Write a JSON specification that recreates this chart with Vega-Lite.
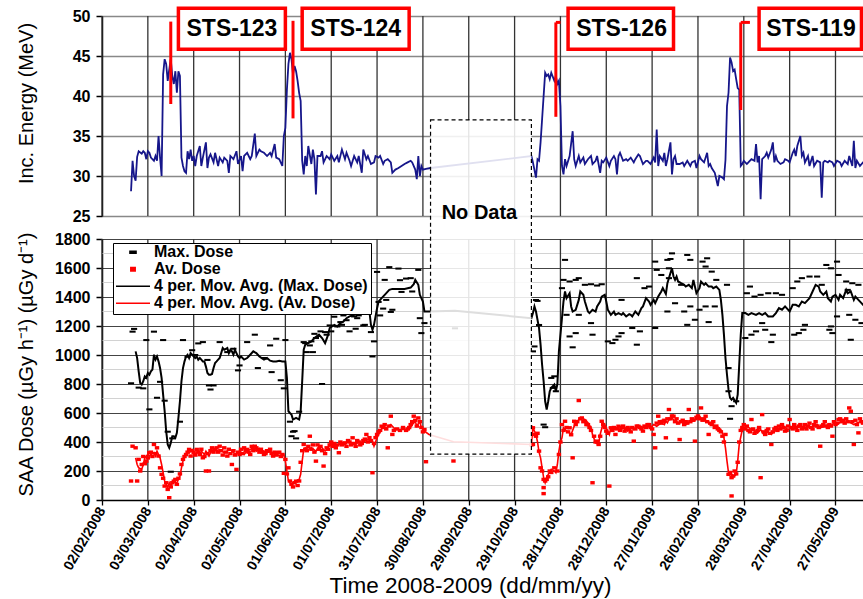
{
"$schema":"https://vega.github.io/schema/vega-lite/v6.json",
"width":761,"height":484,
"autosize":{"type":"none"},
"padding":{"left":102,"top":16,"right":0,"bottom":99},
"background":"white",
"config":{"view":{"stroke":null},"font":"Liberation Sans",
"axis":{"labelFont":"Liberation Sans","titleFont":"Liberation Sans","labelColor":"#000","titleColor":"#000","domainColor":"#000","tickColor":"#000","labelFontWeight":"bold","titleFontWeight":"normal"}},
"datasets":{
"vgrid":[{"d":"2008-02-02"},{"d":"2008-03-03"},{"d":"2008-04-02"},{"d":"2008-05-02"},{"d":"2008-06-01"},{"d":"2008-07-01"},{"d":"2008-07-31"},{"d":"2008-08-30"},{"d":"2008-09-29"},{"d":"2008-10-29"},{"d":"2008-11-28"},{"d":"2008-12-28"},{"d":"2009-01-27"},{"d":"2009-02-26"},{"d":"2009-03-28"},{"d":"2009-04-27"},{"d":"2009-05-27"}],
"minor":[{"v":100},{"v":300},{"v":500},{"v":700},{"v":900},{"v":1100},{"v":1300},{"v":1500},{"v":1700}],
"energy":[{"d":"2008-02-21","e":28.1},{"d":"2008-02-22","e":31.9},{"d":"2008-02-23","e":30.0},{"d":"2008-02-24","e":29.4},{"d":"2008-02-25","e":32.4},{"d":"2008-02-26","e":33.1},{"d":"2008-02-28","e":32.8},{"d":"2008-02-29","e":33.1},{"d":"2008-03-01","e":32.9},{"d":"2008-03-02","e":32.1},{"d":"2008-03-03","e":33.1},{"d":"2008-03-04","e":32.9},{"d":"2008-03-05","e":32.3},{"d":"2008-03-07","e":31.9},{"d":"2008-03-08","e":32.5},{"d":"2008-03-09","e":31.9},{"d":"2008-03-10","e":35.0},{"d":"2008-03-11","e":32.3},{"d":"2008-03-12","e":30.0},{"d":"2008-03-13","e":42.7},{"d":"2008-03-14","e":44.6},{"d":"2008-03-15","e":44.0},{"d":"2008-03-16","e":41.9},{"d":"2008-03-17","e":43.3},{"d":"2008-03-18","e":44.6},{"d":"2008-03-19","e":42.5},{"d":"2008-03-20","e":41.5},{"d":"2008-03-21","e":43.1},{"d":"2008-03-22","e":40.4},{"d":"2008-03-23","e":43.1},{"d":"2008-03-24","e":42.5},{"d":"2008-03-25","e":32.3},{"d":"2008-03-26","e":31.25},{"d":"2008-03-27","e":30.6},{"d":"2008-03-28","e":30.4},{"d":"2008-03-29","e":33.1},{"d":"2008-03-30","e":32.1},{"d":"2008-03-31","e":33.3},{"d":"2008-04-01","e":31.9},{"d":"2008-04-02","e":32.5},{"d":"2008-04-03","e":31.25},{"d":"2008-04-04","e":32.5},{"d":"2008-04-06","e":33.75},{"d":"2008-04-07","e":31.25},{"d":"2008-04-08","e":32.3},{"d":"2008-04-10","e":34.2},{"d":"2008-04-11","e":31.0},{"d":"2008-04-12","e":32.3},{"d":"2008-04-13","e":32.7},{"d":"2008-04-15","e":31.7},{"d":"2008-04-16","e":32.9},{"d":"2008-04-18","e":31.25},{"d":"2008-04-19","e":32.3},{"d":"2008-04-21","e":31.7},{"d":"2008-04-22","e":32.3},{"d":"2008-04-24","e":31.9},{"d":"2008-04-25","e":30.4},{"d":"2008-04-26","e":32.5},{"d":"2008-04-28","e":32.1},{"d":"2008-04-30","e":33.1},{"d":"2008-05-01","e":31.5},{"d":"2008-05-03","e":32.5},{"d":"2008-05-04","e":30.6},{"d":"2008-05-05","e":32.5},{"d":"2008-05-07","e":32.9},{"d":"2008-05-09","e":32.1},{"d":"2008-05-10","e":32.5},{"d":"2008-05-12","e":35.3},{"d":"2008-05-13","e":32.5},{"d":"2008-05-15","e":33.3},{"d":"2008-05-16","e":33.1},{"d":"2008-05-18","e":32.9},{"d":"2008-05-20","e":32.5},{"d":"2008-05-22","e":32.9},{"d":"2008-05-23","e":32.5},{"d":"2008-05-25","e":34.0},{"d":"2008-05-26","e":32.3},{"d":"2008-05-28","e":32.1},{"d":"2008-05-30","e":31.25},{"d":"2008-05-31","e":35.0},{"d":"2008-06-01","e":36.0},{"d":"2008-06-02","e":40.8},{"d":"2008-06-03","e":44.0},{"d":"2008-06-04","e":45.4},{"d":"2008-06-05","e":44.6},{"d":"2008-06-06","e":42.7},{"d":"2008-06-07","e":43.75},{"d":"2008-06-08","e":43.1},{"d":"2008-06-09","e":41.9},{"d":"2008-06-10","e":40.4},{"d":"2008-06-11","e":39.4},{"d":"2008-06-12","e":31.9},{"d":"2008-06-13","e":30.2},{"d":"2008-06-14","e":32.5},{"d":"2008-06-15","e":31.25},{"d":"2008-06-16","e":33.75},{"d":"2008-06-18","e":31.5},{"d":"2008-06-19","e":33.3},{"d":"2008-06-20","e":32.1},{"d":"2008-06-21","e":27.7},{"d":"2008-06-22","e":32.5},{"d":"2008-06-24","e":32.5},{"d":"2008-06-25","e":33.1},{"d":"2008-06-26","e":31.7},{"d":"2008-06-28","e":32.5},{"d":"2008-06-30","e":32.1},{"d":"2008-07-01","e":32.7},{"d":"2008-07-03","e":31.9},{"d":"2008-07-05","e":32.5},{"d":"2008-07-06","e":31.7},{"d":"2008-07-08","e":33.3},{"d":"2008-07-10","e":32.1},{"d":"2008-07-11","e":32.9},{"d":"2008-07-13","e":31.9},{"d":"2008-07-14","e":31.25},{"d":"2008-07-16","e":32.5},{"d":"2008-07-18","e":31.7},{"d":"2008-07-19","e":32.5},{"d":"2008-07-21","e":30.4},{"d":"2008-07-22","e":33.3},{"d":"2008-07-24","e":32.1},{"d":"2008-07-25","e":32.5},{"d":"2008-07-27","e":31.5},{"d":"2008-07-29","e":31.7},{"d":"2008-07-30","e":32.5},{"d":"2008-08-01","e":32.3},{"d":"2008-08-02","e":32.5},{"d":"2008-08-04","e":31.5},{"d":"2008-08-05","e":31.9},{"d":"2008-08-07","e":32.1},{"d":"2008-08-09","e":31.7},{"d":"2008-08-10","e":30.4},{"d":"2008-08-12","e":30.8},{"d":"2008-08-14","e":31.0},{"d":"2008-08-16","e":31.25},{"d":"2008-08-18","e":31.5},{"d":"2008-08-20","e":31.7},{"d":"2008-08-22","e":31.9},{"d":"2008-08-23","e":31.7},{"d":"2008-08-25","e":30.8},{"d":"2008-08-26","e":29.6},{"d":"2008-08-27","e":32.5},{"d":"2008-08-28","e":30.0},{"d":"2008-08-29","e":31.25},{"d":"2008-08-30","e":30.8},{"d":"2008-09-01","e":30.9},{"d":"2008-09-04","e":31.0},{"d":"2008-11-09","e":32.5},{"d":"2008-11-10","e":31.7},{"d":"2008-11-12","e":29.8},{"d":"2008-11-13","e":32.1},{"d":"2008-11-14","e":31.9},{"d":"2008-11-15","e":34.2},{"d":"2008-11-16","e":37.1},{"d":"2008-11-17","e":40.0},{"d":"2008-11-18","e":42.9},{"d":"2008-11-19","e":42.5},{"d":"2008-11-20","e":42.7},{"d":"2008-11-21","e":42.1},{"d":"2008-11-22","e":42.9},{"d":"2008-11-24","e":41.9},{"d":"2008-11-25","e":42.5},{"d":"2008-11-26","e":41.5},{"d":"2008-11-27","e":41.9},{"d":"2008-11-28","e":38.75},{"d":"2008-11-29","e":31.25},{"d":"2008-11-30","e":30.2},{"d":"2008-12-01","e":32.1},{"d":"2008-12-02","e":31.25},{"d":"2008-12-04","e":32.5},{"d":"2008-12-06","e":35.6},{"d":"2008-12-07","e":32.1},{"d":"2008-12-08","e":31.25},{"d":"2008-12-10","e":32.5},{"d":"2008-12-11","e":31.7},{"d":"2008-12-13","e":32.3},{"d":"2008-12-14","e":31.5},{"d":"2008-12-16","e":32.1},{"d":"2008-12-18","e":32.5},{"d":"2008-12-19","e":31.5},{"d":"2008-12-21","e":31.9},{"d":"2008-12-22","e":32.5},{"d":"2008-12-24","e":30.4},{"d":"2008-12-25","e":31.9},{"d":"2008-12-26","e":31.7},{"d":"2008-12-28","e":32.3},{"d":"2008-12-30","e":31.25},{"d":"2008-12-31","e":31.9},{"d":"2009-01-02","e":32.5},{"d":"2009-01-03","e":32.1},{"d":"2009-01-04","e":30.2},{"d":"2009-01-05","e":32.5},{"d":"2009-01-06","e":32.9},{"d":"2009-01-08","e":31.9},{"d":"2009-01-10","e":32.1},{"d":"2009-01-11","e":31.9},{"d":"2009-01-13","e":32.3},{"d":"2009-01-15","e":31.7},{"d":"2009-01-16","e":32.1},{"d":"2009-01-18","e":32.7},{"d":"2009-01-19","e":32.5},{"d":"2009-01-21","e":31.5},{"d":"2009-01-23","e":31.9},{"d":"2009-01-24","e":31.9},{"d":"2009-01-26","e":31.5},{"d":"2009-01-28","e":32.3},{"d":"2009-01-29","e":31.7},{"d":"2009-01-30","e":35.8},{"d":"2009-01-31","e":31.25},{"d":"2009-02-01","e":32.5},{"d":"2009-02-03","e":31.9},{"d":"2009-02-04","e":32.9},{"d":"2009-02-05","e":31.25},{"d":"2009-02-06","e":32.1},{"d":"2009-02-08","e":34.2},{"d":"2009-02-09","e":30.2},{"d":"2009-02-10","e":32.1},{"d":"2009-02-11","e":32.5},{"d":"2009-02-12","e":31.5},{"d":"2009-02-14","e":31.5},{"d":"2009-02-16","e":31.7},{"d":"2009-02-17","e":31.25},{"d":"2009-02-19","e":31.9},{"d":"2009-02-21","e":31.25},{"d":"2009-02-22","e":31.7},{"d":"2009-02-24","e":31.9},{"d":"2009-02-25","e":31.0},{"d":"2009-02-27","e":32.5},{"d":"2009-02-28","e":32.1},{"d":"2009-03-02","e":31.7},{"d":"2009-03-04","e":32.9},{"d":"2009-03-05","e":31.25},{"d":"2009-03-06","e":31.5},{"d":"2009-03-07","e":31.0},{"d":"2009-03-09","e":30.4},{"d":"2009-03-10","e":29.6},{"d":"2009-03-11","e":28.75},{"d":"2009-03-12","e":30.0},{"d":"2009-03-14","e":29.8},{"d":"2009-03-15","e":29.6},{"d":"2009-03-16","e":32.0},{"d":"2009-03-17","e":38.75},{"d":"2009-03-18","e":40.4},{"d":"2009-03-19","e":44.8},{"d":"2009-03-20","e":44.2},{"d":"2009-03-21","e":43.1},{"d":"2009-03-22","e":43.3},{"d":"2009-03-23","e":42.1},{"d":"2009-03-24","e":41.0},{"d":"2009-03-25","e":40.8},{"d":"2009-03-26","e":31.25},{"d":"2009-03-27","e":31.5},{"d":"2009-03-28","e":31.9},{"d":"2009-03-30","e":31.5},{"d":"2009-03-31","e":31.7},{"d":"2009-04-02","e":32.1},{"d":"2009-04-04","e":31.9},{"d":"2009-04-05","e":34.0},{"d":"2009-04-06","e":31.7},{"d":"2009-04-07","e":32.5},{"d":"2009-04-08","e":27.1},{"d":"2009-04-09","e":32.1},{"d":"2009-04-11","e":32.5},{"d":"2009-04-12","e":32.9},{"d":"2009-04-13","e":32.3},{"d":"2009-04-15","e":33.3},{"d":"2009-04-16","e":34.2},{"d":"2009-04-17","e":31.7},{"d":"2009-04-18","e":32.5},{"d":"2009-04-19","e":31.9},{"d":"2009-04-21","e":31.5},{"d":"2009-04-23","e":31.7},{"d":"2009-04-24","e":32.1},{"d":"2009-04-26","e":31.9},{"d":"2009-04-27","e":31.7},{"d":"2009-04-29","e":32.9},{"d":"2009-04-30","e":33.3},{"d":"2009-05-01","e":32.5},{"d":"2009-05-02","e":33.75},{"d":"2009-05-04","e":35.0},{"d":"2009-05-05","e":32.5},{"d":"2009-05-06","e":32.9},{"d":"2009-05-07","e":31.7},{"d":"2009-05-09","e":32.5},{"d":"2009-05-10","e":31.25},{"d":"2009-05-12","e":32.5},{"d":"2009-05-13","e":31.25},{"d":"2009-05-15","e":31.9},{"d":"2009-05-17","e":31.7},{"d":"2009-05-18","e":27.3},{"d":"2009-05-19","e":31.7},{"d":"2009-05-20","e":31.9},{"d":"2009-05-22","e":31.7},{"d":"2009-05-23","e":31.9},{"d":"2009-05-25","e":31.7},{"d":"2009-05-26","e":31.25},{"d":"2009-05-28","e":31.9},{"d":"2009-05-30","e":31.7},{"d":"2009-05-31","e":31.25},{"d":"2009-06-02","e":31.9},{"d":"2009-06-04","e":31.5},{"d":"2009-06-05","e":32.5},{"d":"2009-06-07","e":31.25},{"d":"2009-06-08","e":34.4},{"d":"2009-06-09","e":31.0},{"d":"2009-06-10","e":31.9},{"d":"2009-06-12","e":31.25},{"d":"2009-06-14","e":31.7},{"d":"2009-06-16","e":32.0}],
"maxd":[{"d":"2008-02-21","v":805},{"d":"2008-02-22","v":1161},{"d":"2008-02-23","v":1180},{"d":"2008-02-26","v":775},{"d":"2008-02-29","v":770},{"d":"2008-03-02","v":1103},{"d":"2008-03-04","v":625},{"d":"2008-03-07","v":1161},{"d":"2008-03-09","v":705},{"d":"2008-03-11","v":815},{"d":"2008-03-13","v":1103},{"d":"2008-03-14","v":685},{"d":"2008-03-16","v":471},{"d":"2008-03-18","v":195},{"d":"2008-03-19","v":425},{"d":"2008-03-24","v":540},{"d":"2008-03-26","v":1103},{"d":"2008-03-29","v":988},{"d":"2008-04-01","v":1033},{"d":"2008-04-03","v":1000},{"d":"2008-04-05","v":1080},{"d":"2008-04-08","v":1089},{"d":"2008-04-11","v":966},{"d":"2008-04-12","v":790},{"d":"2008-04-13","v":762},{"d":"2008-04-15","v":790},{"d":"2008-04-19","v":1089},{"d":"2008-04-24","v":1020},{"d":"2008-04-28","v":1043},{"d":"2008-05-01","v":894},{"d":"2008-05-02","v":928},{"d":"2008-05-07","v":1089},{"d":"2008-05-12","v":1140},{"d":"2008-05-14","v":910},{"d":"2008-05-18","v":979},{"d":"2008-05-22","v":1066},{"d":"2008-05-23","v":882},{"d":"2008-05-26","v":1112},{"d":"2008-05-29","v":826},{"d":"2008-05-31","v":770},{"d":"2008-06-01","v":1103},{"d":"2008-06-04","v":540},{"d":"2008-06-05","v":440},{"d":"2008-06-06","v":471},{"d":"2008-06-07","v":475},{"d":"2008-06-08","v":425},{"d":"2008-06-10","v":609},{"d":"2008-06-13","v":1089},{"d":"2008-06-14","v":1082},{"d":"2008-06-15","v":1020},{"d":"2008-06-17","v":1066},{"d":"2008-06-18","v":1094},{"d":"2008-06-19","v":1020},{"d":"2008-06-20","v":1146},{"d":"2008-06-21","v":1117},{"d":"2008-06-24","v":1163},{"d":"2008-06-25","v":800},{"d":"2008-06-27","v":1158},{"d":"2008-06-28","v":1140},{"d":"2008-06-30","v":1204},{"d":"2008-07-01","v":1163},{"d":"2008-07-03","v":1264},{"d":"2008-07-05","v":1197},{"d":"2008-07-07","v":1227},{"d":"2008-07-08","v":1208},{"d":"2008-07-09","v":1273},{"d":"2008-07-11","v":1240},{"d":"2008-07-13","v":1163},{"d":"2008-07-16","v":1266},{"d":"2008-07-17","v":1181},{"d":"2008-07-18","v":1254},{"d":"2008-07-19","v":1273},{"d":"2008-07-22","v":1204},{"d":"2008-07-23","v":1208},{"d":"2008-07-25","v":1295},{"d":"2008-07-27","v":1158},{"d":"2008-07-28","v":990},{"d":"2008-07-29","v":1094},{"d":"2008-07-31","v":1573},{"d":"2008-08-01","v":1366},{"d":"2008-08-02","v":1273},{"d":"2008-08-04","v":1320},{"d":"2008-08-05","v":1518},{"d":"2008-08-06","v":1380},{"d":"2008-08-08","v":1606},{"d":"2008-08-09","v":1297},{"d":"2008-08-10","v":1312},{"d":"2008-08-14","v":1596},{"d":"2008-08-15","v":1516},{"d":"2008-08-16","v":1435},{"d":"2008-08-19","v":1527},{"d":"2008-08-22","v":1530},{"d":"2008-08-23","v":1438},{"d":"2008-08-27","v":1587},{"d":"2008-08-28","v":1254},{"d":"2008-08-29","v":1151},{"d":"2008-08-31","v":1220},{"d":"2008-09-20","v":1184},{"d":"2008-11-10","v":1025},{"d":"2008-11-11","v":1059},{"d":"2008-11-12","v":1379},{"d":"2008-11-13","v":1373},{"d":"2008-11-14","v":1207},{"d":"2008-11-17","v":520},{"d":"2008-11-18","v":502},{"d":"2008-11-22","v":842},{"d":"2008-11-23","v":773},{"d":"2008-11-24","v":853},{"d":"2008-11-25","v":750},{"d":"2008-11-29","v":1461},{"d":"2008-11-30","v":1518},{"d":"2008-12-01","v":1656},{"d":"2008-12-02","v":1277},{"d":"2008-12-04","v":1507},{"d":"2008-12-04","v":1128},{"d":"2008-12-06","v":1053},{"d":"2008-12-08","v":1518},{"d":"2008-12-08","v":1151},{"d":"2008-12-10","v":1530},{"d":"2008-12-10","v":1277},{"d":"2008-12-14","v":1484},{"d":"2008-12-18","v":1488},{"d":"2008-12-18","v":1220},{"d":"2008-12-19","v":1140},{"d":"2008-12-22","v":1479},{"d":"2008-12-25","v":1488},{"d":"2008-12-29","v":1094},{"d":"2009-01-01","v":1082},{"d":"2009-01-03","v":1105},{"d":"2009-01-05","v":1128},{"d":"2009-01-07","v":1151},{"d":"2009-01-07","v":1380},{"d":"2009-01-14","v":1186},{"d":"2009-01-17","v":1071},{"d":"2009-01-17","v":1530},{"d":"2009-01-19","v":1163},{"d":"2009-01-22","v":1461},{"d":"2009-01-25","v":1472},{"d":"2009-01-29","v":1186},{"d":"2009-01-29","v":1644},{"d":"2009-01-30","v":1587},{"d":"2009-02-02","v":1552},{"d":"2009-02-06","v":1656},{"d":"2009-02-06","v":1300},{"d":"2009-02-07","v":1530},{"d":"2009-02-07","v":1598},{"d":"2009-02-08","v":1662},{"d":"2009-02-09","v":1701},{"d":"2009-02-11","v":1357},{"d":"2009-02-15","v":1484},{"d":"2009-02-17","v":1300},{"d":"2009-02-19","v":1690},{"d":"2009-02-19","v":1208},{"d":"2009-02-21","v":1656},{"d":"2009-02-21","v":1335},{"d":"2009-02-24","v":1243},{"d":"2009-02-27","v":1312},{"d":"2009-03-01","v":1644},{"d":"2009-03-03","v":1610},{"d":"2009-03-03","v":1335},{"d":"2009-03-04","v":1667},{"d":"2009-03-05","v":1227},{"d":"2009-03-07","v":1575},{"d":"2009-03-09","v":1335},{"d":"2009-03-10","v":1518},{"d":"2009-03-17","v":1484},{"d":"2009-03-18","v":750},{"d":"2009-03-18","v":910},{"d":"2009-03-19","v":560},{"d":"2009-03-20","v":647},{"d":"2009-03-23","v":681},{"d":"2009-03-29","v":1117},{"d":"2009-03-30","v":1426},{"d":"2009-04-01","v":1472},{"d":"2009-04-02","v":1140},{"d":"2009-04-04","v":1403},{"d":"2009-04-05","v":1163},{"d":"2009-04-08","v":1415},{"d":"2009-04-09","v":1220},{"d":"2009-04-11","v":1174},{"d":"2009-04-13","v":1426},{"d":"2009-04-15","v":1089},{"d":"2009-04-16","v":1140},{"d":"2009-04-18","v":1426},{"d":"2009-04-22","v":1415},{"d":"2009-04-29","v":1461},{"d":"2009-04-30","v":1140},{"d":"2009-05-02","v":1507},{"d":"2009-05-03","v":1151},{"d":"2009-05-05","v":1530},{"d":"2009-05-06","v":1174},{"d":"2009-05-07","v":1208},{"d":"2009-05-10","v":1541},{"d":"2009-05-15","v":1541},{"d":"2009-05-18","v":1484},{"d":"2009-05-21","v":1621},{"d":"2009-05-23","v":1174},{"d":"2009-05-24","v":1598},{"d":"2009-05-24","v":1197},{"d":"2009-05-25","v":1151},{"d":"2009-05-28","v":1644},{"d":"2009-05-28","v":1266},{"d":"2009-05-29","v":1552},{"d":"2009-06-03","v":1507},{"d":"2009-06-04","v":1449},{"d":"2009-06-05","v":1277},{"d":"2009-06-06","v":1105},{"d":"2009-06-07","v":1495},{"d":"2009-06-09","v":1243},{"d":"2009-06-11","v":1484},{"d":"2009-06-13","v":1220}],
"avgd":[{"d":"2008-02-21","v":131},{"d":"2008-02-22","v":371},{"d":"2008-02-24","v":360},{"d":"2008-02-25","v":131},{"d":"2008-02-26","v":280},{"d":"2008-02-27","v":200},{"d":"2008-02-28","v":245},{"d":"2008-02-29","v":300},{"d":"2008-03-01","v":250},{"d":"2008-03-02","v":268},{"d":"2008-03-03","v":290},{"d":"2008-03-04","v":326},{"d":"2008-03-05","v":330},{"d":"2008-03-06","v":300},{"d":"2008-03-07","v":383},{"d":"2008-03-08","v":320},{"d":"2008-03-09","v":360},{"d":"2008-03-10","v":303},{"d":"2008-03-11","v":222},{"d":"2008-03-12","v":177},{"d":"2008-03-13","v":150},{"d":"2008-03-14","v":96},{"d":"2008-03-15","v":119},{"d":"2008-03-16","v":73},{"d":"2008-03-17","v":16},{"d":"2008-03-18","v":90},{"d":"2008-03-19","v":119},{"d":"2008-03-20","v":130},{"d":"2008-03-21","v":142},{"d":"2008-03-22","v":108},{"d":"2008-03-23","v":150},{"d":"2008-03-24","v":180},{"d":"2008-03-25","v":245},{"d":"2008-03-26","v":280},{"d":"2008-03-27","v":300},{"d":"2008-03-28","v":314},{"d":"2008-03-29","v":330},{"d":"2008-03-30","v":349},{"d":"2008-03-31","v":303},{"d":"2008-04-01","v":340},{"d":"2008-04-02","v":326},{"d":"2008-04-03","v":310},{"d":"2008-04-04","v":349},{"d":"2008-04-05","v":330},{"d":"2008-04-06","v":314},{"d":"2008-04-07","v":350},{"d":"2008-04-08","v":291},{"d":"2008-04-09","v":300},{"d":"2008-04-10","v":200},{"d":"2008-04-11","v":320},{"d":"2008-04-12","v":200},{"d":"2008-04-13","v":340},{"d":"2008-04-14","v":360},{"d":"2008-04-15","v":330},{"d":"2008-04-16","v":350},{"d":"2008-04-17","v":360},{"d":"2008-04-18","v":330},{"d":"2008-04-19","v":371},{"d":"2008-04-20","v":340},{"d":"2008-04-21","v":310},{"d":"2008-04-22","v":360},{"d":"2008-04-23","v":330},{"d":"2008-04-24","v":303},{"d":"2008-04-25","v":350},{"d":"2008-04-26","v":320},{"d":"2008-04-27","v":245},{"d":"2008-04-28","v":340},{"d":"2008-04-29","v":310},{"d":"2008-04-30","v":211},{"d":"2008-05-01","v":330},{"d":"2008-05-02","v":314},{"d":"2008-05-03","v":350},{"d":"2008-05-04","v":320},{"d":"2008-05-05","v":360},{"d":"2008-05-06","v":340},{"d":"2008-05-07","v":349},{"d":"2008-05-08","v":330},{"d":"2008-05-09","v":314},{"d":"2008-05-10","v":370},{"d":"2008-05-11","v":340},{"d":"2008-05-12","v":371},{"d":"2008-05-13","v":360},{"d":"2008-05-14","v":349},{"d":"2008-05-15","v":330},{"d":"2008-05-16","v":350},{"d":"2008-05-17","v":330},{"d":"2008-05-18","v":314},{"d":"2008-05-19","v":320},{"d":"2008-05-20","v":340},{"d":"2008-05-21","v":337},{"d":"2008-05-22","v":350},{"d":"2008-05-23","v":320},{"d":"2008-05-24","v":303},{"d":"2008-05-25","v":330},{"d":"2008-05-26","v":310},{"d":"2008-05-27","v":326},{"d":"2008-05-28","v":330},{"d":"2008-05-29","v":300},{"d":"2008-05-30","v":314},{"d":"2008-05-31","v":184},{"d":"2008-06-01","v":280},{"d":"2008-06-02","v":180},{"d":"2008-06-03","v":222},{"d":"2008-06-04","v":131},{"d":"2008-06-05","v":108},{"d":"2008-06-06","v":90},{"d":"2008-06-07","v":119},{"d":"2008-06-08","v":130},{"d":"2008-06-09","v":100},{"d":"2008-06-10","v":131},{"d":"2008-06-11","v":260},{"d":"2008-06-12","v":340},{"d":"2008-06-13","v":383},{"d":"2008-06-14","v":350},{"d":"2008-06-15","v":340},{"d":"2008-06-16","v":370},{"d":"2008-06-17","v":440},{"d":"2008-06-18","v":350},{"d":"2008-06-19","v":380},{"d":"2008-06-20","v":330},{"d":"2008-06-21","v":268},{"d":"2008-06-22","v":380},{"d":"2008-06-23","v":350},{"d":"2008-06-24","v":370},{"d":"2008-06-25","v":340},{"d":"2008-06-26","v":234},{"d":"2008-06-27","v":320},{"d":"2008-06-28","v":360},{"d":"2008-06-29","v":350},{"d":"2008-06-30","v":380},{"d":"2008-07-01","v":400},{"d":"2008-07-02","v":370},{"d":"2008-07-03","v":390},{"d":"2008-07-04","v":360},{"d":"2008-07-05","v":380},{"d":"2008-07-06","v":326},{"d":"2008-07-07","v":400},{"d":"2008-07-08","v":380},{"d":"2008-07-09","v":390},{"d":"2008-07-10","v":394},{"d":"2008-07-11","v":370},{"d":"2008-07-12","v":410},{"d":"2008-07-13","v":400},{"d":"2008-07-14","v":380},{"d":"2008-07-15","v":429},{"d":"2008-07-16","v":390},{"d":"2008-07-17","v":370},{"d":"2008-07-18","v":410},{"d":"2008-07-19","v":400},{"d":"2008-07-20","v":380},{"d":"2008-07-21","v":390},{"d":"2008-07-22","v":410},{"d":"2008-07-23","v":420},{"d":"2008-07-24","v":452},{"d":"2008-07-25","v":400},{"d":"2008-07-26","v":430},{"d":"2008-07-27","v":410},{"d":"2008-07-28","v":188},{"d":"2008-07-29","v":390},{"d":"2008-07-30","v":430},{"d":"2008-07-31","v":452},{"d":"2008-08-01","v":470},{"d":"2008-08-02","v":480},{"d":"2008-08-03","v":509},{"d":"2008-08-04","v":500},{"d":"2008-08-05","v":520},{"d":"2008-08-06","v":490},{"d":"2008-08-07","v":360},{"d":"2008-08-08","v":510},{"d":"2008-08-09","v":578},{"d":"2008-08-10","v":452},{"d":"2008-08-11","v":480},{"d":"2008-08-13","v":490},{"d":"2008-08-15","v":480},{"d":"2008-08-17","v":500},{"d":"2008-08-19","v":480},{"d":"2008-08-20","v":490},{"d":"2008-08-21","v":500},{"d":"2008-08-22","v":520},{"d":"2008-08-23","v":540},{"d":"2008-08-24","v":578},{"d":"2008-08-25","v":550},{"d":"2008-08-26","v":510},{"d":"2008-08-27","v":566},{"d":"2008-08-28","v":540},{"d":"2008-08-29","v":500},{"d":"2008-08-30","v":470},{"d":"2008-08-31","v":486},{"d":"2008-09-01","v":264},{"d":"2008-09-19","v":269},{"d":"2008-11-09","v":380},{"d":"2008-11-10","v":498},{"d":"2008-11-10","v":383},{"d":"2008-11-11","v":452},{"d":"2008-11-12","v":440},{"d":"2008-11-13","v":460},{"d":"2008-11-14","v":337},{"d":"2008-11-15","v":222},{"d":"2008-11-16","v":200},{"d":"2008-11-17","v":142},{"d":"2008-11-17","v":85},{"d":"2008-11-17","v":44},{"d":"2008-11-18","v":131},{"d":"2008-11-19","v":142},{"d":"2008-11-20","v":160},{"d":"2008-11-21","v":200},{"d":"2008-11-22","v":190},{"d":"2008-11-24","v":222},{"d":"2008-11-26","v":200},{"d":"2008-11-27","v":314},{"d":"2008-11-28","v":400},{"d":"2008-11-29","v":520},{"d":"2008-11-30","v":480},{"d":"2008-12-01","v":543},{"d":"2008-12-02","v":500},{"d":"2008-12-03","v":470},{"d":"2008-12-04","v":498},{"d":"2008-12-05","v":450},{"d":"2008-12-06","v":291},{"d":"2008-12-07","v":543},{"d":"2008-12-08","v":520},{"d":"2008-12-09","v":540},{"d":"2008-12-10","v":686},{"d":"2008-12-11","v":560},{"d":"2008-12-12","v":566},{"d":"2008-12-13","v":540},{"d":"2008-12-14","v":543},{"d":"2008-12-15","v":520},{"d":"2008-12-16","v":520},{"d":"2008-12-17","v":500},{"d":"2008-12-18","v":480},{"d":"2008-12-19","v":119},{"d":"2008-12-20","v":440},{"d":"2008-12-21","v":400},{"d":"2008-12-22","v":406},{"d":"2008-12-23","v":383},{"d":"2008-12-24","v":440},{"d":"2008-12-25","v":543},{"d":"2008-12-26","v":520},{"d":"2008-12-27","v":500},{"d":"2008-12-28","v":475},{"d":"2008-12-29","v":460},{"d":"2008-12-30","v":96},{"d":"2008-12-31","v":498},{"d":"2009-01-01","v":480},{"d":"2009-01-02","v":500},{"d":"2009-01-03","v":452},{"d":"2009-01-04","v":490},{"d":"2009-01-05","v":509},{"d":"2009-01-06","v":480},{"d":"2009-01-07","v":500},{"d":"2009-01-08","v":510},{"d":"2009-01-09","v":475},{"d":"2009-01-10","v":490},{"d":"2009-01-11","v":500},{"d":"2009-01-12","v":486},{"d":"2009-01-13","v":470},{"d":"2009-01-14","v":500},{"d":"2009-01-15","v":406},{"d":"2009-01-16","v":490},{"d":"2009-01-17","v":510},{"d":"2009-01-18","v":509},{"d":"2009-01-19","v":500},{"d":"2009-01-20","v":490},{"d":"2009-01-21","v":475},{"d":"2009-01-22","v":510},{"d":"2009-01-23","v":500},{"d":"2009-01-24","v":520},{"d":"2009-01-25","v":520},{"d":"2009-01-26","v":500},{"d":"2009-01-27","v":490},{"d":"2009-01-28","v":452},{"d":"2009-01-29","v":360},{"d":"2009-01-30","v":530},{"d":"2009-01-31","v":578},{"d":"2009-02-01","v":540},{"d":"2009-02-02","v":530},{"d":"2009-02-03","v":543},{"d":"2009-02-04","v":550},{"d":"2009-02-05","v":429},{"d":"2009-02-06","v":560},{"d":"2009-02-07","v":624},{"d":"2009-02-08","v":560},{"d":"2009-02-09","v":580},{"d":"2009-02-10","v":578},{"d":"2009-02-11","v":540},{"d":"2009-02-12","v":560},{"d":"2009-02-13","v":530},{"d":"2009-02-14","v":417},{"d":"2009-02-15","v":540},{"d":"2009-02-16","v":550},{"d":"2009-02-17","v":520},{"d":"2009-02-18","v":540},{"d":"2009-02-19","v":530},{"d":"2009-02-20","v":624},{"d":"2009-02-21","v":540},{"d":"2009-02-22","v":560},{"d":"2009-02-23","v":550},{"d":"2009-02-24","v":406},{"d":"2009-02-25","v":570},{"d":"2009-02-26","v":580},{"d":"2009-02-27","v":560},{"d":"2009-02-28","v":635},{"d":"2009-03-01","v":550},{"d":"2009-03-02","v":560},{"d":"2009-03-03","v":578},{"d":"2009-03-04","v":540},{"d":"2009-03-05","v":452},{"d":"2009-03-06","v":530},{"d":"2009-03-07","v":520},{"d":"2009-03-08","v":540},{"d":"2009-03-09","v":500},{"d":"2009-03-10","v":510},{"d":"2009-03-11","v":490},{"d":"2009-03-12","v":480},{"d":"2009-03-13","v":470},{"d":"2009-03-14","v":440},{"d":"2009-03-15","v":400},{"d":"2009-03-16","v":452},{"d":"2009-03-18","v":177},{"d":"2009-03-19","v":190},{"d":"2009-03-20","v":154},{"d":"2009-03-20","v":28},{"d":"2009-03-21","v":165},{"d":"2009-03-22","v":200},{"d":"2009-03-23","v":180},{"d":"2009-03-24","v":260},{"d":"2009-03-25","v":400},{"d":"2009-03-26","v":480},{"d":"2009-03-27","v":500},{"d":"2009-03-28","v":520},{"d":"2009-03-29","v":490},{"d":"2009-03-30","v":510},{"d":"2009-03-31","v":480},{"d":"2009-04-01","v":470},{"d":"2009-04-02","v":555},{"d":"2009-04-03","v":490},{"d":"2009-04-04","v":460},{"d":"2009-04-05","v":470},{"d":"2009-04-06","v":480},{"d":"2009-04-07","v":500},{"d":"2009-04-08","v":154},{"d":"2009-04-09","v":589},{"d":"2009-04-10","v":470},{"d":"2009-04-11","v":452},{"d":"2009-04-12","v":480},{"d":"2009-04-13","v":490},{"d":"2009-04-14","v":460},{"d":"2009-04-15","v":383},{"d":"2009-04-16","v":470},{"d":"2009-04-17","v":490},{"d":"2009-04-18","v":500},{"d":"2009-04-19","v":480},{"d":"2009-04-20","v":510},{"d":"2009-04-21","v":490},{"d":"2009-04-22","v":520},{"d":"2009-04-23","v":500},{"d":"2009-04-24","v":475},{"d":"2009-04-25","v":480},{"d":"2009-04-26","v":510},{"d":"2009-04-27","v":555},{"d":"2009-04-28","v":500},{"d":"2009-04-29","v":490},{"d":"2009-04-30","v":520},{"d":"2009-05-01","v":500},{"d":"2009-05-02","v":480},{"d":"2009-05-03","v":510},{"d":"2009-05-04","v":520},{"d":"2009-05-05","v":490},{"d":"2009-05-06","v":500},{"d":"2009-05-07","v":520},{"d":"2009-05-08","v":490},{"d":"2009-05-09","v":510},{"d":"2009-05-10","v":530},{"d":"2009-05-11","v":500},{"d":"2009-05-12","v":490},{"d":"2009-05-13","v":520},{"d":"2009-05-14","v":540},{"d":"2009-05-15","v":510},{"d":"2009-05-16","v":500},{"d":"2009-05-17","v":371},{"d":"2009-05-18","v":510},{"d":"2009-05-19","v":520},{"d":"2009-05-20","v":540},{"d":"2009-05-21","v":510},{"d":"2009-05-22","v":500},{"d":"2009-05-23","v":520},{"d":"2009-05-24","v":510},{"d":"2009-05-25","v":440},{"d":"2009-05-26","v":540},{"d":"2009-05-27","v":520},{"d":"2009-05-28","v":530},{"d":"2009-05-29","v":555},{"d":"2009-05-30","v":560},{"d":"2009-05-31","v":540},{"d":"2009-06-01","v":550},{"d":"2009-06-02","v":530},{"d":"2009-06-03","v":560},{"d":"2009-06-04","v":540},{"d":"2009-06-05","v":635},{"d":"2009-06-06","v":612},{"d":"2009-06-07","v":540},{"d":"2009-06-08","v":383},{"d":"2009-06-09","v":550},{"d":"2009-06-10","v":520},{"d":"2009-06-11","v":463},{"d":"2009-06-12","v":560},{"d":"2009-06-13","v":540},{"d":"2009-06-14","v":530}],
"mamax":[{"d":"2008-02-24","v":1025},{"d":"2008-02-25","v":979},{"d":"2008-02-26","v":887},{"d":"2008-02-27","v":807},{"d":"2008-02-28","v":796},{"d":"2008-02-29","v":819},{"d":"2008-03-01","v":853},{"d":"2008-03-02","v":842},{"d":"2008-03-03","v":876},{"d":"2008-03-04","v":864},{"d":"2008-03-05","v":887},{"d":"2008-03-06","v":899},{"d":"2008-03-07","v":1002},{"d":"2008-03-08","v":968},{"d":"2008-03-09","v":990},{"d":"2008-03-10","v":956},{"d":"2008-03-11","v":910},{"d":"2008-03-12","v":842},{"d":"2008-03-13","v":727},{"d":"2008-03-14","v":612},{"d":"2008-03-15","v":475},{"d":"2008-03-16","v":383},{"d":"2008-03-17","v":360},{"d":"2008-03-18","v":394},{"d":"2008-03-19","v":440},{"d":"2008-03-20","v":440},{"d":"2008-03-21","v":429},{"d":"2008-03-22","v":463},{"d":"2008-03-23","v":566},{"d":"2008-03-24","v":681},{"d":"2008-03-25","v":819},{"d":"2008-03-26","v":910},{"d":"2008-03-27","v":956},{"d":"2008-03-28","v":990},{"d":"2008-03-29","v":1002},{"d":"2008-03-30","v":979},{"d":"2008-03-31","v":1013},{"d":"2008-04-01","v":1002},{"d":"2008-04-03","v":979},{"d":"2008-04-04","v":990},{"d":"2008-04-05","v":968},{"d":"2008-04-06","v":979},{"d":"2008-04-07","v":968},{"d":"2008-04-08","v":956},{"d":"2008-04-09","v":956},{"d":"2008-04-10","v":920},{"d":"2008-04-11","v":876},{"d":"2008-04-12","v":864},{"d":"2008-04-13","v":864},{"d":"2008-04-14","v":869},{"d":"2008-04-15","v":910},{"d":"2008-04-16","v":945},{"d":"2008-04-17","v":956},{"d":"2008-04-18","v":968},{"d":"2008-04-19","v":979},{"d":"2008-04-20","v":1013},{"d":"2008-04-21","v":1048},{"d":"2008-04-22","v":1036},{"d":"2008-04-24","v":1048},{"d":"2008-04-25","v":1013},{"d":"2008-04-26","v":1036},{"d":"2008-04-27","v":1025},{"d":"2008-04-28","v":1002},{"d":"2008-04-29","v":1036},{"d":"2008-04-30","v":1013},{"d":"2008-05-01","v":990},{"d":"2008-05-02","v":979},{"d":"2008-05-03","v":990},{"d":"2008-05-05","v":968},{"d":"2008-05-07","v":979},{"d":"2008-05-09","v":1002},{"d":"2008-05-11","v":1025},{"d":"2008-05-13","v":1013},{"d":"2008-05-15","v":990},{"d":"2008-05-18","v":968},{"d":"2008-05-20","v":979},{"d":"2008-05-22","v":961},{"d":"2008-05-24","v":956},{"d":"2008-05-26","v":956},{"d":"2008-05-28","v":961},{"d":"2008-05-30","v":956},{"d":"2008-06-01","v":956},{"d":"2008-06-02","v":842},{"d":"2008-06-03","v":612},{"d":"2008-06-04","v":600},{"d":"2008-06-05","v":589},{"d":"2008-06-06","v":555},{"d":"2008-06-08","v":566},{"d":"2008-06-10","v":555},{"d":"2008-06-11","v":612},{"d":"2008-06-12","v":819},{"d":"2008-06-13","v":1036},{"d":"2008-06-14","v":1071},{"d":"2008-06-16","v":1082},{"d":"2008-06-18","v":1094},{"d":"2008-06-20","v":1117},{"d":"2008-06-23","v":1140},{"d":"2008-06-25","v":1117},{"d":"2008-06-27","v":1082},{"d":"2008-06-29","v":1140},{"d":"2008-06-30","v":1186},{"d":"2008-07-03","v":1208},{"d":"2008-07-05","v":1197},{"d":"2008-07-07","v":1220},{"d":"2008-07-09","v":1231},{"d":"2008-07-11","v":1254},{"d":"2008-07-13","v":1266},{"d":"2008-07-16","v":1277},{"d":"2008-07-18","v":1289},{"d":"2008-07-20","v":1295},{"d":"2008-07-22","v":1300},{"d":"2008-07-24","v":1312},{"d":"2008-07-26","v":1300},{"d":"2008-07-27","v":1208},{"d":"2008-07-28","v":1174},{"d":"2008-07-29","v":1208},{"d":"2008-07-31","v":1323},{"d":"2008-08-01","v":1369},{"d":"2008-08-03","v":1392},{"d":"2008-08-05","v":1415},{"d":"2008-08-08","v":1449},{"d":"2008-08-10","v":1456},{"d":"2008-08-14","v":1456},{"d":"2008-08-18","v":1456},{"d":"2008-08-22","v":1465},{"d":"2008-08-24","v":1488},{"d":"2008-08-25","v":1518},{"d":"2008-08-27","v":1484},{"d":"2008-08-28","v":1415},{"d":"2008-08-30","v":1369},{"d":"2008-08-31","v":1300},{"d":"2008-09-03","v":1300},{"d":"2008-09-20","v":1305},{"d":"2008-11-09","v":1254},{"d":"2008-11-10","v":1289},{"d":"2008-11-11","v":1335},{"d":"2008-11-12","v":1300},{"d":"2008-11-14","v":1185},{"d":"2008-11-15","v":1071},{"d":"2008-11-16","v":933},{"d":"2008-11-17","v":819},{"d":"2008-11-18","v":681},{"d":"2008-11-19","v":624},{"d":"2008-11-20","v":681},{"d":"2008-11-21","v":750},{"d":"2008-11-22","v":773},{"d":"2008-11-24","v":796},{"d":"2008-11-25","v":750},{"d":"2008-11-26","v":800},{"d":"2008-11-27","v":1025},{"d":"2008-11-29","v":1254},{"d":"2008-11-30","v":1369},{"d":"2008-12-01","v":1438},{"d":"2008-12-02","v":1392},{"d":"2008-12-04","v":1426},{"d":"2008-12-05","v":1335},{"d":"2008-12-06","v":1300},{"d":"2008-12-08","v":1312},{"d":"2008-12-10","v":1380},{"d":"2008-12-11","v":1438},{"d":"2008-12-13","v":1415},{"d":"2008-12-14","v":1369},{"d":"2008-12-16","v":1300},{"d":"2008-12-17","v":1289},{"d":"2008-12-19","v":1312},{"d":"2008-12-21","v":1300},{"d":"2008-12-22","v":1335},{"d":"2008-12-24","v":1369},{"d":"2008-12-25","v":1403},{"d":"2008-12-27","v":1415},{"d":"2008-12-28","v":1369},{"d":"2008-12-29","v":1312},{"d":"2008-12-31","v":1277},{"d":"2009-01-02","v":1300},{"d":"2009-01-03","v":1277},{"d":"2009-01-05","v":1289},{"d":"2009-01-07","v":1277},{"d":"2009-01-08","v":1289},{"d":"2009-01-10","v":1266},{"d":"2009-01-12","v":1282},{"d":"2009-01-13","v":1277},{"d":"2009-01-14","v":1266},{"d":"2009-01-16","v":1300},{"d":"2009-01-18","v":1277},{"d":"2009-01-20","v":1323},{"d":"2009-01-21","v":1335},{"d":"2009-01-23","v":1392},{"d":"2009-01-25","v":1369},{"d":"2009-01-26","v":1346},{"d":"2009-01-28","v":1380},{"d":"2009-01-29","v":1358},{"d":"2009-01-31","v":1403},{"d":"2009-02-02","v":1438},{"d":"2009-02-03","v":1461},{"d":"2009-02-05","v":1420},{"d":"2009-02-06","v":1495},{"d":"2009-02-08","v":1565},{"d":"2009-02-09","v":1598},{"d":"2009-02-10","v":1541},{"d":"2009-02-11","v":1518},{"d":"2009-02-12","v":1541},{"d":"2009-02-13","v":1507},{"d":"2009-02-15","v":1495},{"d":"2009-02-17","v":1484},{"d":"2009-02-18","v":1472},{"d":"2009-02-20","v":1484},{"d":"2009-02-22","v":1461},{"d":"2009-02-23","v":1518},{"d":"2009-02-25","v":1426},{"d":"2009-02-27","v":1461},{"d":"2009-02-28","v":1507},{"d":"2009-03-02","v":1484},{"d":"2009-03-03","v":1495},{"d":"2009-03-05","v":1472},{"d":"2009-03-07","v":1472},{"d":"2009-03-08","v":1461},{"d":"2009-03-10","v":1472},{"d":"2009-03-12","v":1449},{"d":"2009-03-13","v":1380},{"d":"2009-03-14","v":1277},{"d":"2009-03-15","v":1140},{"d":"2009-03-16","v":979},{"d":"2009-03-17","v":864},{"d":"2009-03-18","v":761},{"d":"2009-03-19","v":704},{"d":"2009-03-20","v":692},{"d":"2009-03-21","v":704},{"d":"2009-03-23","v":670},{"d":"2009-03-24","v":727},{"d":"2009-03-25","v":933},{"d":"2009-03-26","v":1140},{"d":"2009-03-27","v":1289},{"d":"2009-03-29","v":1289},{"d":"2009-03-31","v":1277},{"d":"2009-04-02","v":1289},{"d":"2009-04-05","v":1277},{"d":"2009-04-07","v":1289},{"d":"2009-04-09","v":1277},{"d":"2009-04-11","v":1289},{"d":"2009-04-13","v":1266},{"d":"2009-04-16","v":1266},{"d":"2009-04-18","v":1289},{"d":"2009-04-20","v":1323},{"d":"2009-04-22","v":1312},{"d":"2009-04-24","v":1335},{"d":"2009-04-27","v":1300},{"d":"2009-04-29","v":1346},{"d":"2009-05-01","v":1346},{"d":"2009-05-03","v":1335},{"d":"2009-05-05","v":1369},{"d":"2009-05-07","v":1358},{"d":"2009-05-10","v":1392},{"d":"2009-05-12","v":1438},{"d":"2009-05-14","v":1484},{"d":"2009-05-16","v":1472},{"d":"2009-05-17","v":1438},{"d":"2009-05-19","v":1415},{"d":"2009-05-21","v":1438},{"d":"2009-05-22","v":1392},{"d":"2009-05-24","v":1369},{"d":"2009-05-25","v":1403},{"d":"2009-05-27","v":1415},{"d":"2009-05-29","v":1380},{"d":"2009-05-30","v":1415},{"d":"2009-06-01","v":1392},{"d":"2009-06-03","v":1449},{"d":"2009-06-04","v":1426},{"d":"2009-06-06","v":1438},{"d":"2009-06-08","v":1380},{"d":"2009-06-09","v":1403},{"d":"2009-06-11","v":1380},{"d":"2009-06-13","v":1358},{"d":"2009-06-15","v":1335}],
"maavg":[{"d":"2008-02-24","v":291},{"d":"2008-02-25","v":245},{"d":"2008-02-26","v":222},{"d":"2008-02-28","v":211},{"d":"2008-02-29","v":245},{"d":"2008-03-01","v":291},{"d":"2008-03-02","v":303},{"d":"2008-03-03","v":314},{"d":"2008-03-04","v":303},{"d":"2008-03-05","v":314},{"d":"2008-03-07","v":326},{"d":"2008-03-08","v":303},{"d":"2008-03-09","v":337},{"d":"2008-03-10","v":314},{"d":"2008-03-11","v":291},{"d":"2008-03-12","v":245},{"d":"2008-03-13","v":188},{"d":"2008-03-14","v":131},{"d":"2008-03-15","v":108},{"d":"2008-03-16","v":85},{"d":"2008-03-17","v":119},{"d":"2008-03-18","v":96},{"d":"2008-03-20","v":131},{"d":"2008-03-21","v":119},{"d":"2008-03-22","v":119},{"d":"2008-03-23","v":142},{"d":"2008-03-24","v":165},{"d":"2008-03-25","v":222},{"d":"2008-03-26","v":268},{"d":"2008-03-27","v":303},{"d":"2008-03-28","v":314},{"d":"2008-03-29","v":337},{"d":"2008-03-30","v":326},{"d":"2008-04-01","v":349},{"d":"2008-04-02","v":337},{"d":"2008-04-03","v":314},{"d":"2008-04-04","v":326},{"d":"2008-04-05","v":337},{"d":"2008-04-06","v":314},{"d":"2008-04-07","v":337},{"d":"2008-04-08","v":326},{"d":"2008-04-09","v":314},{"d":"2008-04-10","v":337},{"d":"2008-04-12","v":303},{"d":"2008-04-13","v":326},{"d":"2008-04-15","v":349},{"d":"2008-04-17","v":337},{"d":"2008-04-19","v":349},{"d":"2008-04-22","v":326},{"d":"2008-04-24","v":337},{"d":"2008-04-26","v":349},{"d":"2008-04-28","v":326},{"d":"2008-04-30","v":314},{"d":"2008-05-02","v":337},{"d":"2008-05-05","v":314},{"d":"2008-05-07","v":337},{"d":"2008-05-09","v":349},{"d":"2008-05-11","v":360},{"d":"2008-05-13","v":337},{"d":"2008-05-15","v":349},{"d":"2008-05-18","v":337},{"d":"2008-05-20","v":326},{"d":"2008-05-22","v":337},{"d":"2008-05-24","v":326},{"d":"2008-05-26","v":314},{"d":"2008-05-29","v":303},{"d":"2008-05-31","v":314},{"d":"2008-06-01","v":268},{"d":"2008-06-02","v":200},{"d":"2008-06-03","v":131},{"d":"2008-06-05","v":108},{"d":"2008-06-06","v":119},{"d":"2008-06-08","v":131},{"d":"2008-06-10","v":142},{"d":"2008-06-11","v":177},{"d":"2008-06-12","v":268},{"d":"2008-06-13","v":349},{"d":"2008-06-14","v":360},{"d":"2008-06-16","v":349},{"d":"2008-06-18","v":360},{"d":"2008-06-21","v":337},{"d":"2008-06-23","v":371},{"d":"2008-06-25","v":360},{"d":"2008-06-27","v":337},{"d":"2008-06-29","v":360},{"d":"2008-07-01","v":394},{"d":"2008-07-04","v":371},{"d":"2008-07-06","v":383},{"d":"2008-07-08","v":394},{"d":"2008-07-10","v":383},{"d":"2008-07-12","v":406},{"d":"2008-07-14","v":394},{"d":"2008-07-17","v":383},{"d":"2008-07-19","v":406},{"d":"2008-07-21","v":383},{"d":"2008-07-23","v":406},{"d":"2008-07-25","v":417},{"d":"2008-07-28","v":406},{"d":"2008-07-29","v":371},{"d":"2008-07-31","v":429},{"d":"2008-08-02","v":475},{"d":"2008-08-04","v":509},{"d":"2008-08-06","v":498},{"d":"2008-08-09","v":520},{"d":"2008-08-12","v":486},{"d":"2008-08-16","v":486},{"d":"2008-08-21","v":486},{"d":"2008-08-23","v":520},{"d":"2008-08-25","v":543},{"d":"2008-08-26","v":509},{"d":"2008-08-28","v":543},{"d":"2008-08-29","v":498},{"d":"2008-08-31","v":475},{"d":"2008-09-03","v":452},{"d":"2008-09-19","v":402},{"d":"2008-11-09","v":383},{"d":"2008-11-10","v":498},{"d":"2008-11-11","v":475},{"d":"2008-11-12","v":452},{"d":"2008-11-13","v":400},{"d":"2008-11-14","v":330},{"d":"2008-11-15","v":291},{"d":"2008-11-16","v":222},{"d":"2008-11-17","v":154},{"d":"2008-11-18","v":119},{"d":"2008-11-19","v":154},{"d":"2008-11-20","v":177},{"d":"2008-11-22","v":211},{"d":"2008-11-24","v":200},{"d":"2008-11-25","v":188},{"d":"2008-11-26","v":245},{"d":"2008-11-27","v":337},{"d":"2008-11-28","v":400},{"d":"2008-11-29","v":429},{"d":"2008-11-30","v":498},{"d":"2008-12-02","v":475},{"d":"2008-12-04","v":463},{"d":"2008-12-05","v":452},{"d":"2008-12-07","v":509},{"d":"2008-12-09","v":543},{"d":"2008-12-11","v":566},{"d":"2008-12-14","v":555},{"d":"2008-12-16","v":532},{"d":"2008-12-18","v":498},{"d":"2008-12-19","v":452},{"d":"2008-12-21","v":394},{"d":"2008-12-23","v":383},{"d":"2008-12-24","v":452},{"d":"2008-12-26","v":532},{"d":"2008-12-27","v":520},{"d":"2008-12-29","v":475},{"d":"2008-12-30","v":452},{"d":"2008-12-31","v":498},{"d":"2009-01-02","v":486},{"d":"2009-01-04","v":498},{"d":"2009-01-06","v":486},{"d":"2009-01-09","v":498},{"d":"2009-01-11","v":475},{"d":"2009-01-13","v":498},{"d":"2009-01-15","v":486},{"d":"2009-01-17","v":498},{"d":"2009-01-19","v":509},{"d":"2009-01-22","v":498},{"d":"2009-01-24","v":509},{"d":"2009-01-26","v":498},{"d":"2009-01-28","v":520},{"d":"2009-01-30","v":509},{"d":"2009-02-02","v":532},{"d":"2009-02-04","v":520},{"d":"2009-02-05","v":543},{"d":"2009-02-06","v":532},{"d":"2009-02-07","v":555},{"d":"2009-02-08","v":555},{"d":"2009-02-09","v":566},{"d":"2009-02-11","v":543},{"d":"2009-02-14","v":532},{"d":"2009-02-16","v":543},{"d":"2009-02-18","v":520},{"d":"2009-02-20","v":532},{"d":"2009-02-22","v":543},{"d":"2009-02-25","v":555},{"d":"2009-02-27","v":578},{"d":"2009-03-01","v":555},{"d":"2009-03-03","v":543},{"d":"2009-03-05","v":532},{"d":"2009-03-07","v":520},{"d":"2009-03-10","v":509},{"d":"2009-03-12","v":498},{"d":"2009-03-14","v":463},{"d":"2009-03-15","v":429},{"d":"2009-03-16","v":360},{"d":"2009-03-17","v":268},{"d":"2009-03-18","v":188},{"d":"2009-03-19","v":177},{"d":"2009-03-20","v":177},{"d":"2009-03-22","v":165},{"d":"2009-03-23","v":177},{"d":"2009-03-24","v":268},{"d":"2009-03-25","v":383},{"d":"2009-03-27","v":486},{"d":"2009-03-28","v":498},{"d":"2009-03-30","v":509},{"d":"2009-04-02","v":486},{"d":"2009-04-04","v":475},{"d":"2009-04-06","v":463},{"d":"2009-04-08","v":486},{"d":"2009-04-10","v":452},{"d":"2009-04-12","v":475},{"d":"2009-04-15","v":452},{"d":"2009-04-17","v":475},{"d":"2009-04-19","v":486},{"d":"2009-04-21","v":498},{"d":"2009-04-23","v":509},{"d":"2009-04-26","v":486},{"d":"2009-04-28","v":498},{"d":"2009-04-30","v":509},{"d":"2009-05-02","v":498},{"d":"2009-05-04","v":509},{"d":"2009-05-07","v":498},{"d":"2009-05-09","v":509},{"d":"2009-05-11","v":498},{"d":"2009-05-13","v":509},{"d":"2009-05-15","v":520},{"d":"2009-05-17","v":498},{"d":"2009-05-20","v":509},{"d":"2009-05-22","v":520},{"d":"2009-05-24","v":509},{"d":"2009-05-26","v":532},{"d":"2009-05-28","v":520},{"d":"2009-05-31","v":543},{"d":"2009-06-02","v":532},{"d":"2009-06-04","v":543},{"d":"2009-06-06","v":532},{"d":"2009-06-08","v":520},{"d":"2009-06-10","v":532},{"d":"2009-06-13","v":543}],
"stsl":[{"d":"2008-03-18","e1":39.0,"e2":49.3},{"d":"2008-06-06","e1":37.2,"e2":49.4},{"d":"2008-11-25","e1":37.4,"e2":49.2},{"d":"2009-03-26","e1":38.25,"e2":49.2}],
"stst":[{"d":"2008-11-25","d2":"2008-11-28","e":49.2},{"d":"2009-03-26","d2":"2009-04-01","e":49.2}],
"stsb":[{"t":"STS-123","d":"2008-03-23","d2":"2008-06-01","dc":"2008-04-27","e1":45.84,"e2":50.96,"ec":48.4},{"t":"STS-124","d":"2008-06-12","d2":"2008-08-21","dc":"2008-07-17","e1":45.84,"e2":50.96,"ec":48.4},{"t":"STS-126","d":"2008-12-03","d2":"2009-02-10","dc":"2009-01-07","e1":45.84,"e2":50.96,"ec":48.4},{"t":"STS-119","d":"2009-04-07","d2":"2009-06-13","dc":"2009-05-11","e1":45.84,"e2":50.96,"ec":48.4}],
"nodata":[{"t":"No Data","d":"2008-09-04","d2":"2008-11-09","dc":"2008-10-06","v":317,"v2":2621,"vc":1979}]
},
"layer":[
{"layer":[
 {"data":{"name":"vgrid"},"mark":{"type":"rule","color":"#333","strokeWidth":1.3},
  "encoding":{"x":{"field":"d","type":"temporal","scale":{"type":"utc","domain":[{"year":2008,"month":2,"date":2,"utc":true},{"year":2009,"month":6,"date":14,"utc":true}]}},
   "y":{"datum":25,"type":"quantitative","scale":{"domain":[25,50],"range":[200,0],"nice":false,"zero":false}},"y2":{"datum":50}}},
 {"data":{"name":"energy"},"mark":{"type":"line","color":"#16168a","strokeWidth":1.8},
  "encoding":{"x":{"field":"d","type":"temporal","scale":{"type":"utc","domain":[{"year":2008,"month":2,"date":2,"utc":true},{"year":2009,"month":6,"date":14,"utc":true}]},
     "axis":{"values":[{"year":2008,"month":2,"date":2,"utc":true},{"year":2008,"month":3,"date":3,"utc":true},{"year":2008,"month":4,"date":2,"utc":true},{"year":2008,"month":5,"date":2,"utc":true},{"year":2008,"month":6,"date":1,"utc":true},{"year":2008,"month":7,"date":1,"utc":true},{"year":2008,"month":7,"date":31,"utc":true},{"year":2008,"month":8,"date":30,"utc":true},{"year":2008,"month":9,"date":29,"utc":true},{"year":2008,"month":10,"date":29,"utc":true},{"year":2008,"month":11,"date":28,"utc":true},{"year":2008,"month":12,"date":28,"utc":true},{"year":2009,"month":1,"date":27,"utc":true},{"year":2009,"month":2,"date":26,"utc":true},{"year":2009,"month":3,"date":28,"utc":true},{"year":2009,"month":4,"date":27,"utc":true},{"year":2009,"month":5,"date":27,"utc":true}],
       "format":"%d/%m/%Y","labelAngle":-60,"labelAlign":"right","labelBaseline":"middle","labelFontSize":14,"labelPadding":3,"labelOverlap":false,"labelFlush":false,"labelBound":false,"grid":false,"tickSize":5,"tickWidth":1.3,"domainWidth":1.5,
       "title":"Time 2008-2009 (dd/mm/yy)","titleFontSize":22.5,"titleX":368,"titleY":85,"titleAlign":"center","titleBaseline":"middle"}},
   "y":{"field":"e","type":"quantitative","scale":{"domain":[25,50],"range":[200,0],"nice":false,"zero":false},
     "axis":{"orient":"left","values":[25,30,35,40,45,50],"grid":true,"gridColor":"#888","gridWidth":1.5,"title":"Inc. Energy  (MeV)","titleFontSize":20,"titleX":-76,"titleY":87,"titleAngle":270,"titleBaseline":"middle","titleAlign":"center","labelFontSize":16,"tickSize":6,"tickWidth":1.5,"labelPadding":6,"domainWidth":1.5}}}},
 {"data":{"name":"stsl"},"mark":{"type":"rule","color":"#ff0000","strokeWidth":3},
  "encoding":{"x":{"field":"d","type":"temporal"},"y":{"field":"e1","type":"quantitative"},"y2":{"field":"e2"}}},
 {"data":{"name":"stst"},"mark":{"type":"rule","color":"#ff0000","strokeWidth":3},
  "encoding":{"x":{"field":"d","type":"temporal"},"x2":{"field":"d2"},"y":{"field":"e","type":"quantitative"}}},
 {"data":{"name":"stsb"},"mark":{"type":"rect","fill":"white","stroke":"#ff0000","strokeWidth":3.5},
  "encoding":{"x":{"field":"d","type":"temporal"},"x2":{"field":"d2"},"y":{"field":"e1","type":"quantitative"},"y2":{"field":"e2"}}},
 {"data":{"name":"stsb"},"mark":{"type":"text","fontSize":23,"fontWeight":"bold","font":"Liberation Sans","align":"center","baseline":"middle","color":"#000"},
  "encoding":{"x":{"field":"dc","type":"temporal"},"y":{"field":"ec","type":"quantitative"},"text":{"field":"t"}}}
]},
{"layer":[
 {"data":{"name":"minor"},"mark":{"type":"rule","color":"#d2d2d2","strokeWidth":1.2},
  "encoding":{"y":{"field":"v","type":"quantitative","scale":{"domain":[0,1800],"range":[484,223],"nice":false,"zero":false}}}},
 {"data":{"name":"vgrid"},"mark":{"type":"rule","color":"#333","strokeWidth":1.3},
  "encoding":{"x":{"field":"d","type":"temporal"},"y":{"datum":0,"type":"quantitative"},"y2":{"datum":1800}}},
 {"data":{"name":"maxd"},"mark":{"type":"point","filled":true,"size":1156,"opacity":1,"strokeWidth":0},
  "encoding":{"x":{"field":"d","type":"temporal"},
   "y":{"field":"v","type":"quantitative","scale":{"domain":[0,1800],"range":[484,223],"nice":false,"zero":false},
     "axis":{"orient":"left","values":[0,200,400,600,800,1000,1200,1400,1600,1800],"format":"d","grid":true,"gridColor":"#444","gridWidth":1.2,"title":"SAA Dose (µGy h⁻¹) (µGy d⁻¹)","titleFontSize":20,"titleX":-76,"titleY":348,"titleAngle":270,"titleBaseline":"middle","titleAlign":"center","labelFontSize":16,"tickSize":6,"tickWidth":1.5,"labelPadding":6,"domainWidth":1.5}},
   "color":{"datum":"Max. Dose","scale":{"domain":["Max. Dose","Av. Dose","4 per. Mov. Avg. (Max. Dose)","4 per. Mov. Avg. (Av. Dose)"],"range":["#000000","#ff0000","#000000","#ff0000"]},
     "legend":{"title":null,"orient":"none","legendX":11,"legendY":227,"direction":"vertical","fillColor":"white","strokeColor":"#000","padding":2,"symbolSize":1156,"clipHeight":14.5,"labelFontSize":16,"labelFontWeight":"bold","labelFont":"Liberation Sans","labelColor":"#000","labelOffset":3,"labelLimit":400,"rowPadding":0,
       "encode":{"legend":{"update":{"strokeWidth":{"value":1.5}}},"symbols":{"update":{"stroke":{"scale":"color","field":"value"},"strokeWidth":{"signal":"indexof(datum.value, 'Mov') >= 0 ? 2.5 : 0"},"opacity":{"value":1}}}}}},
   "shape":{"datum":"Max. Dose","scale":{"domain":["Max. Dose","Av. Dose","4 per. Mov. Avg. (Max. Dose)","4 per. Mov. Avg. (Av. Dose)"],"range":["M-0.18,-0.06H0.18V0.06H-0.18Z","M-0.13,-0.1H0.13V0.1H-0.13Z","stroke","stroke"]}}}},
 {"data":{"name":"avgd"},"mark":{"type":"point","filled":true,"size":1156,"opacity":1,"strokeWidth":0},
  "encoding":{"x":{"field":"d","type":"temporal"},"y":{"field":"v","type":"quantitative"},
   "color":{"datum":"Av. Dose"},"shape":{"datum":"Av. Dose"}}},
 {"data":{"name":"mamax"},"mark":{"type":"line","strokeWidth":2},
  "encoding":{"x":{"field":"d","type":"temporal"},"y":{"field":"v","type":"quantitative"},
   "color":{"datum":"4 per. Mov. Avg. (Max. Dose)"}}},
 {"data":{"name":"maavg"},"mark":{"type":"line","strokeWidth":1.6},
  "encoding":{"x":{"field":"d","type":"temporal"},"y":{"field":"v","type":"quantitative"},
   "color":{"datum":"4 per. Mov. Avg. (Av. Dose)"}}},
 {"data":{"name":"nodata"},"mark":{"type":"rect","fill":"white","fillOpacity":0.87,"stroke":"#000","strokeWidth":1.2,"strokeDash":[4,3]},
  "encoding":{"x":{"field":"d","type":"temporal"},"x2":{"field":"d2"},"y":{"field":"v","type":"quantitative"},"y2":{"field":"v2"}}},
 {"data":{"name":"nodata"},"mark":{"type":"text","fontSize":20,"fontWeight":"bold","font":"Liberation Sans","align":"center","baseline":"middle","color":"#000"},
  "encoding":{"x":{"field":"dc","type":"temporal"},"y":{"field":"vc","type":"quantitative"},"text":{"field":"t"}}}
]}
],
"resolve":{"scale":{"y":"independent"},"axis":{"y":"independent"}}
}
